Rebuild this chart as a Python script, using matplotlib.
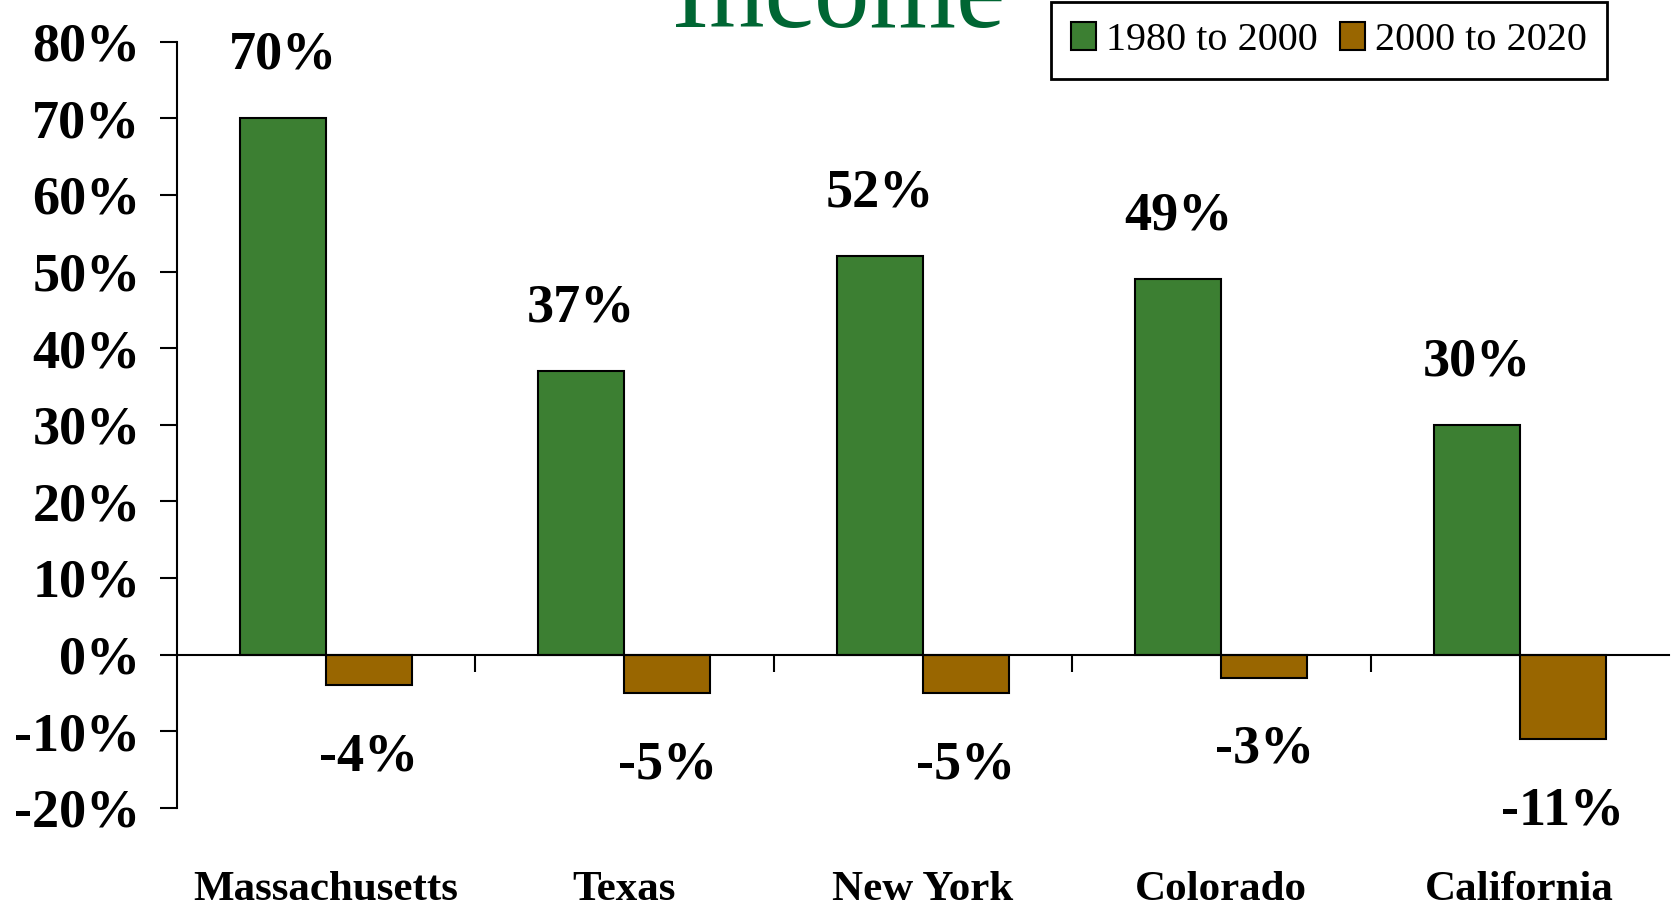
import numpy as np
import matplotlib.pyplot as plt
from matplotlib.patches import Patch
import matplotlib.transforms as mtransforms

# data
states = ["Massachusetts", "Texas", "New York", "Colorado", "California"]
growth_1980_2000 = [70, 37, 52, 49, 30]
growth_2000_2020 = [-4, -5, -5, -3, -11]
series_names = ["1980 to 2000", "2000 to 2020"]
yticks = [-20, -10, 0, 10, 20, 30, 40, 50, 60, 70, 80]

green = "#3C7F32"
brown = "#996600"
title_green = "#006633"

plt.rcParams["font.family"] = ["Liberation Serif", "DejaVu Serif"]

fig = plt.figure(figsize=(16.71, 9.09), dpi=100)
ax = fig.add_axes([0.1057, 0.1114, 0.8931, 0.8427])

x = np.arange(len(states))
w = 0.288
ax.bar(x - w / 2, growth_1980_2000, w, color=green, edgecolor="black", linewidth=1.5, zorder=2)
ax.bar(x + w / 2, growth_2000_2020, w, color=brown, edgecolor="black", linewidth=1.5, zorder=2)

ax.set_xlim(-0.5, len(states) - 0.5)
ax.set_ylim(-20, 80)

# spines: left axis and zero line
ax.spines["top"].set_visible(False)
ax.spines["right"].set_visible(False)
ax.spines["bottom"].set_position(("data", 0))
ax.spines["left"].set_linewidth(1.5)
ax.spines["bottom"].set_linewidth(1.5)

ax.set_yticks(yticks)
ax.set_yticklabels([f"{t}%" for t in yticks], fontsize=39, fontweight="bold")
ax.tick_params(axis="y", direction="out", length=12, width=1.5, pad=14)

# category boundaries as ticks under the zero line
ax.set_xticks(np.arange(0.5, len(states) - 0.5, 1.0))
ax.set_xticklabels([])
ax.tick_params(axis="x", direction="out", length=12, width=1.5)

# data labels
for i in range(len(states)):
    v = growth_1980_2000[i]
    ax.annotate(f"{v}%", (x[i] - w / 2, v), xytext=(0, 45), textcoords="offset points",
                ha="center", va="center", fontsize=39, fontweight="bold")
    v = growth_2000_2020[i]
    ax.annotate(f"{v}%", (x[i] + w / 2, v), xytext=(0, -52), textcoords="offset points",
                ha="center", va="center", fontsize=39, fontweight="bold")

# category labels at the bottom
trans = mtransforms.blended_transform_factory(ax.transData, ax.transAxes)
for i, s in enumerate(states):
    ax.text(x[i], -0.108, s, transform=trans, ha="center", va="center",
            fontsize=31, fontweight="bold")

# title (cut off at the top in the original)
fig.text(839 / 1671, 1 - 27 / 909, "Income", ha="center", va="baseline",
         fontsize=80, color=title_green)

handles = [Patch(facecolor=green, edgecolor="black", linewidth=1.5),
           Patch(facecolor=brown, edgecolor="black", linewidth=1.5)]
leg = fig.legend(handles, series_names, loc="upper right", ncol=2,
                 bbox_to_anchor=(1607 / 1671, 1 - 2 / 909), fontsize=29,
                 frameon=True, fancybox=False, edgecolor="black", framealpha=1,
                 borderpad=0.5, handlelength=0.62, handleheight=0.7,
                 handletextpad=0.25, columnspacing=0.55, borderaxespad=0)
leg.get_frame().set_linewidth(2)

fig.savefig("out.png", dpi=100)
